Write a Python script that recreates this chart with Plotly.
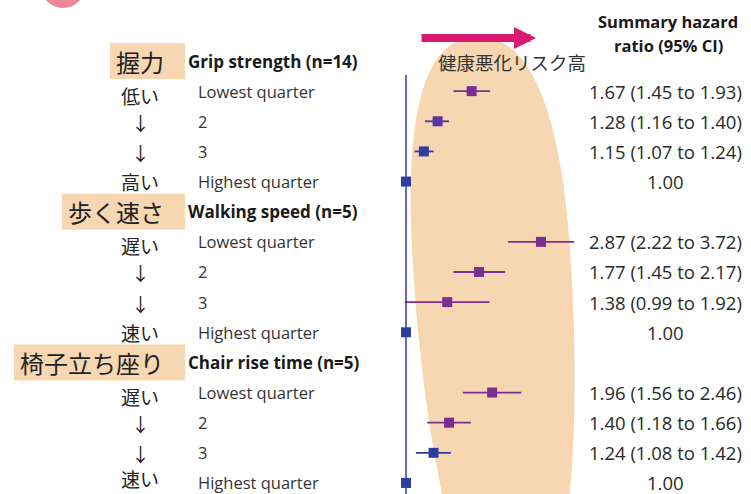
import numpy as np
import plotly.graph_objects as go

# ---------------- data ----------------
groups_en = ["Grip strength (n=14)", "Walking speed (n=5)", "Chair rise time (n=5)"]
groups_ja = ["握力", "歩く速さ", "椅子立ち座り"]
quarters = ["Lowest quarter", "2", "3", "Highest quarter"]
direction_labels = [["低い", "↓", "↓", "高い"],
                    ["遅い", "↓", "↓", "速い"],
                    ["遅い", "↓", "↓", "速い"]]
hr_est = [[1.67, 1.28, 1.15, 1.00],
          [2.87, 1.77, 1.38, 1.00],
          [1.96, 1.40, 1.24, 1.00]]
hr_low = [[1.45, 1.16, 1.07, None],
          [2.22, 1.45, 0.99, None],
          [1.56, 1.18, 1.08, None]]
hr_high = [[1.93, 1.40, 1.24, None],
           [3.72, 2.17, 1.92, None],
           [2.46, 1.66, 1.42, None]]
header_right = ["Summary hazard", "ratio (95% CI)"]
risk_label = "健康悪化リスク高"

# ---------------- style ----------------
W, H = 751, 494
PURPLE = "#7a2e91"
MIDP = "#5c33a0"
BLUE = "#2f3d9e"
point_colors = [[PURPLE, MIDP, BLUE, BLUE],
                [PURPLE, PURPLE, PURPLE, BLUE],
                [PURPLE, PURPLE, BLUE, BLUE]]
BEIGE = "#f6d7b2"
CJK = "Noto Sans CJK JP"
LAT = "Open Sans"
VALF = "Open Sans"

def pxx(px):
    return px / W

def pxy(py):
    return 1 - py / H

ROW0, ROWSTEP = 61.0, 30.14
x_left_ln, x_right_ln = -406 / 128.0, 345 / 128.0

fig = go.Figure()

# beige egg-shaped background (decorative), slightly tilted
hw, ytop, ymid, ybot_d = 79.0, 38.0, 270.0, 380.0
pts = []
ys = np.linspace(ytop, 494 + 10, 140)
for yy in ys:
    if yy <= ymid:
        t = (ymid - yy) / (ymid - ytop)
        f = max(0.0, 1 - t ** 2.5) ** (1 / 2.5)
    else:
        t = (yy - ymid) / ybot_d
        f = max(0.0, 1 - t ** 2) ** 0.5
    cx = 478 + (yy - ytop) / (494 - ytop) * 28
    pts.append((yy, cx, hw * f))
right = [(pxx(c + w), pxy(yy)) for yy, c, w in pts]
left = [(pxx(c - w), pxy(yy)) for yy, c, w in reversed(pts)]
allp = right + left
path = "M " + " L ".join(f"{x:.5f},{y:.5f}" for x, y in allp) + " Z"
fig.add_shape(type="path", path=path, xref="paper", yref="paper",
              fillcolor=BEIGE, line=dict(width=0), layer="below")

# pink decorative circle at top-left
fig.add_shape(type="circle", xref="paper", yref="paper",
              x0=pxx(40), x1=pxx(86), y0=pxy(8), y1=pxy(-40),
              fillcolor="#ec8898", line=dict(width=0), layer="below")

# reference line at HR = 1
fig.add_shape(type="line", xref="x", yref="paper", x0=1, x1=1,
              y0=0, y1=pxy(75), line=dict(color=BLUE, width=1.5))

annotations = []

def ann(**kw):
    kw.setdefault("showarrow", False)
    kw.setdefault("xanchor", "center")
    kw.setdefault("yanchor", "middle")
    annotations.append(kw)

for g in range(len(groups_en)):
    hrow = g * 5
    n = len(groups_ja[g])
    bx0 = 166 - 24 * n - 8
    yc = ROW0 + ROWSTEP * hrow
    fig.add_shape(type="rect", xref="paper", yref="paper",
                  x0=pxx(bx0), x1=pxx(185), y0=pxy(yc + 18), y1=pxy(yc - 18),
                  fillcolor=BEIGE, line=dict(width=0), layer="below")
    ann(x=pxx(166), y=hrow, xref="paper", yref="y", text=groups_ja[g],
        xanchor="right", font=dict(family=CJK, size=24, color="#222"))
    ann(x=pxx(186), y=hrow, xref="paper", yref="y",
        text="<b>" + groups_en[g] + "</b>", xanchor="left",
        font=dict(family=LAT, size=17, color="#1a1a1a"))
    for q in range(4):
        r = hrow + 1 + q
        ann(x=pxx(196), y=r, xref="paper", yref="y", text=quarters[q],
            xanchor="left", font=dict(family=LAT, size=16.5, color="#333"))
        dl = direction_labels[g][q]
        shift = -4 if q == 0 else (-1 if dl == "↓" else 0)
        if r == 14:
            shift = 4
        ann(x=pxx(140), y=r, xref="paper", yref="y", text=dl, yshift=shift,
            font=dict(family=CJK, size=19, color="#222"))
        est, lo, hi = hr_est[g][q], hr_low[g][q], hr_high[g][q]
        if lo is None:
            txt = f"{est:.2f}"
        else:
            txt = f"{est:.2f} ({lo:.2f} to {hi:.2f})"
        ann(x=pxx(665), y=r, xref="paper", yref="y", text=txt,
            font=dict(family=VALF, size=18.5, color="#2a2a2a"))
        col = point_colors[g][q]
        err = None
        if lo is not None:
            err = dict(type="data", symmetric=False, array=[hi - est],
                       arrayminus=[est - lo], width=0, thickness=1.8, color=col)
        fig.add_trace(go.Scatter(x=[est], y=[r], mode="markers",
                                 marker=dict(symbol="square", size=10, color=col),
                                 error_x=err, showlegend=False, hoverinfo="x"))

# header on right
ann(x=pxx(668), y=pxy(22), xref="paper", yref="paper",
    text="<b>" + header_right[0] + "</b>",
    font=dict(family=LAT, size=16.5, color="#1a1a1a"))
ann(x=pxx(668), y=pxy(45), xref="paper", yref="paper",
    text="<b>" + header_right[1] + "</b>",
    font=dict(family=LAT, size=16.5, color="#1a1a1a"))
# risk arrow and label
annotations.append(dict(x=pxx(536), y=pxy(38), ax=-116, ay=0,
                        xref="paper", yref="paper", axref="pixel", ayref="pixel",
                        text="", showarrow=True, arrowhead=2, arrowsize=0.55,
                        arrowwidth=8, arrowcolor="#d91a6e"))
ann(x=pxx(512), y=pxy(62), xref="paper", yref="paper", text=risk_label,
    font=dict(family=CJK, size=18.5, color="#333"))

fig.update_layout(
    width=W, height=H,
    margin=dict(l=0, r=0, t=0, b=0),
    paper_bgcolor="white", plot_bgcolor="rgba(0,0,0,0)",
    xaxis=dict(type="log", range=[x_left_ln / np.log(10), x_right_ln / np.log(10)],
               visible=False, fixedrange=True),
    yaxis=dict(range=[(H - ROW0) / ROWSTEP, -ROW0 / ROWSTEP], visible=False,
               fixedrange=True),
    annotations=annotations,
)

fig.write_html("out.html", config={"displayModeBar": False},
               post_script="document.body.style.margin='0px';document.body.style.overflow='hidden';")
